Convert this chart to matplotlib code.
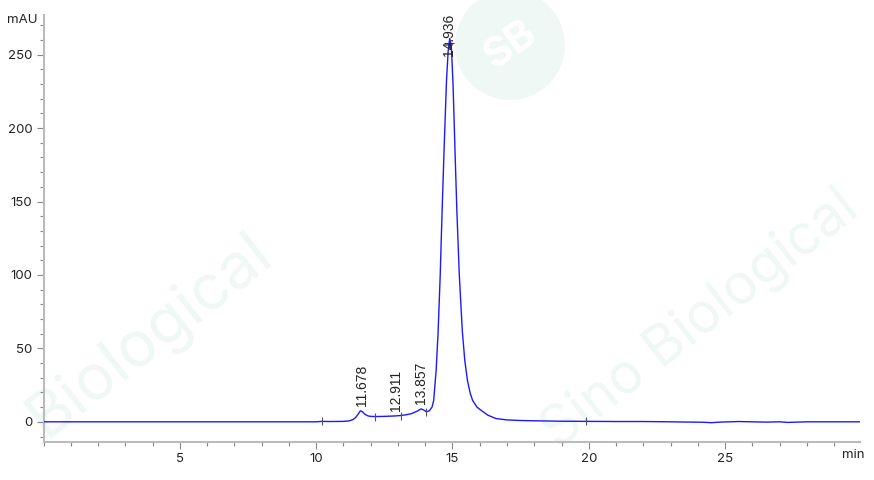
import matplotlib
matplotlib.use("Agg")
import matplotlib.pyplot as plt
from matplotlib.patches import Ellipse
from matplotlib.ticker import MultipleLocator

# Chromatogram trace (time in min, absorbance in mAU)
time_min = [0.0, 10.0, 10.2, 10.5, 11.0, 11.2, 11.35, 11.45, 11.55, 11.62, 11.7, 11.8, 11.9,
            12.0, 12.2, 12.5, 12.9, 13.1, 13.3, 13.5, 13.7, 13.85, 13.95, 14.05, 14.15,
            14.25, 14.31, 14.4, 14.47, 14.55, 14.62, 14.7, 14.78, 14.84, 14.9, 14.96,
            15.02, 15.1, 15.16, 15.25, 15.36, 15.45, 15.55, 15.65, 15.74, 15.9, 16.06, 16.3,
            16.6, 17.0, 17.5, 18.0, 19.0, 20.0, 21.0, 22.0, 23.0, 24.2, 24.5, 24.8,
            25.5, 26.0, 26.5, 27.0, 27.3, 28.0, 29.95]
signal_mau = [0.0, 0.0, 0.3, 0.2, 0.3, 0.6, 1.5, 3.0, 5.5, 7.5, 6.8, 5.0, 4.0,
              3.7, 3.6, 3.7, 4.0, 4.3, 4.8, 5.6, 7.2, 8.8, 8.0, 6.8, 7.5,
              10.0, 14.5, 35.0, 60.0, 100.0, 144.0, 190.0, 232.0, 252.0, 261.0, 255.0,
              230.0, 180.0, 144.0, 100.0, 62.0, 42.0, 28.0, 19.5, 14.5, 10.0, 7.7, 4.5,
              2.2, 1.3, 0.9, 0.7, 0.4, 0.3, 0.2, 0.2, 0.0, -0.3, -0.6, -0.2,
              0.2, 0.0, -0.2, 0.0, -0.4, 0.0, 0.0]

# Peak labels
peak_times = [11.678, 12.911, 13.857, 14.936]
peak_heights = [7.5, 4.0, 8.8, 261.0]
peak_labels = ["11.678", "12.911", "13.857", "14.936"]

# Integration baseline markers
marker_times = [10.2, 12.15, 13.1, 14.02, 19.9]
marker_values = [0.3, 3.6, 4.3, 6.8, 0.3]

xticks = [5, 10, 15, 20, 25]
yticks = [0, 50, 100, 150, 200, 250]

W, H = 874, 480
fig = plt.figure(figsize=(W / 100, H / 100), dpi=100)

# faint watermark in a background axes (pixel coordinates)
bg = fig.add_axes([0, 0, 1, 1], zorder=-1)
bg.set_xlim(0, W)
bg.set_ylim(H, 0)
bg.axis('off')
wm = '#f0f8f6'
bg.add_patch(Ellipse((510, 45), 110, 110, facecolor=wm, edgecolor='none'))
bg.text(510, 45, "SB", color='white', fontsize=30, ha='center', va='center',
        rotation=35, fontfamily='Inter', fontweight='bold')
bg.text(150, 335, "Biological", color=wm, fontsize=46, ha='center', va='center',
        rotation=38, fontfamily='Inter')
bg.text(700, 320, "Sino Biological", color=wm, fontsize=40, ha='center', va='center',
        rotation=38, fontfamily='Inter')

ax = fig.add_axes([43.6 / W, (480 - 441.5) / H, (860 - 43.6) / W, (441.5 - 15) / H])
ax.patch.set_alpha(0)

ax.plot(time_min, signal_mau, color='#1a1aff', lw=1.0, zorder=3)
ax.plot(marker_times, marker_values, ls='none', marker='|', ms=6, mew=0.8, color='#555555', zorder=4)
ax.plot([peak_times[-1] - 0.05], [peak_heights[-1] - 3], ls='none', marker='+', ms=7, mew=0.8,
        color='#333333', zorder=4)

for t, h, lab in zip(peak_times, peak_heights, peak_labels):
    if h > 200:
        ax.text(t - 0.05, 278, lab, rotation=90, ha='center', va='top', fontsize=10,
                fontfamily='Liberation Sans', color='#222222', clip_on=False, zorder=5)
    else:
        ax.text(t, h + 3.5, lab, rotation=90, ha='center', va='bottom', fontsize=10,
                fontfamily='Liberation Sans', color='#222222', zorder=5)

ax.set_xlim(0, 29.95)
ax.set_ylim(-13.4, 277)
ax.set_xticks(xticks)
ax.set_yticks(yticks)
ax.xaxis.set_minor_locator(MultipleLocator(1))
ax.yaxis.set_minor_locator(MultipleLocator(10))

for s in ['top', 'right']:
    ax.spines[s].set_visible(False)
for s in ['left', 'bottom']:
    ax.spines[s].set_color('#bbbbbb')
    ax.spines[s].set_linewidth(1.5)

ax.tick_params(which='major', length=5, width=0.8, color='#888888', labelsize=9.5, pad=3)
ax.tick_params(which='minor', length=3, width=0.8, color='#888888')
for lab in ax.get_xticklabels() + ax.get_yticklabels():
    lab.set_fontfamily('Inter')
    lab.set_color('#222222')

fig.text(38 / W, 1 - 20 / H, "mAU", ha='right', va='center', fontsize=9.5, fontfamily='Inter', color='#222222')
fig.text(853 / W, 1 - 455 / H, "min", ha='center', va='center', fontsize=9.5, fontfamily='Inter', color='#222222')

fig.savefig("out.png", dpi=100)
